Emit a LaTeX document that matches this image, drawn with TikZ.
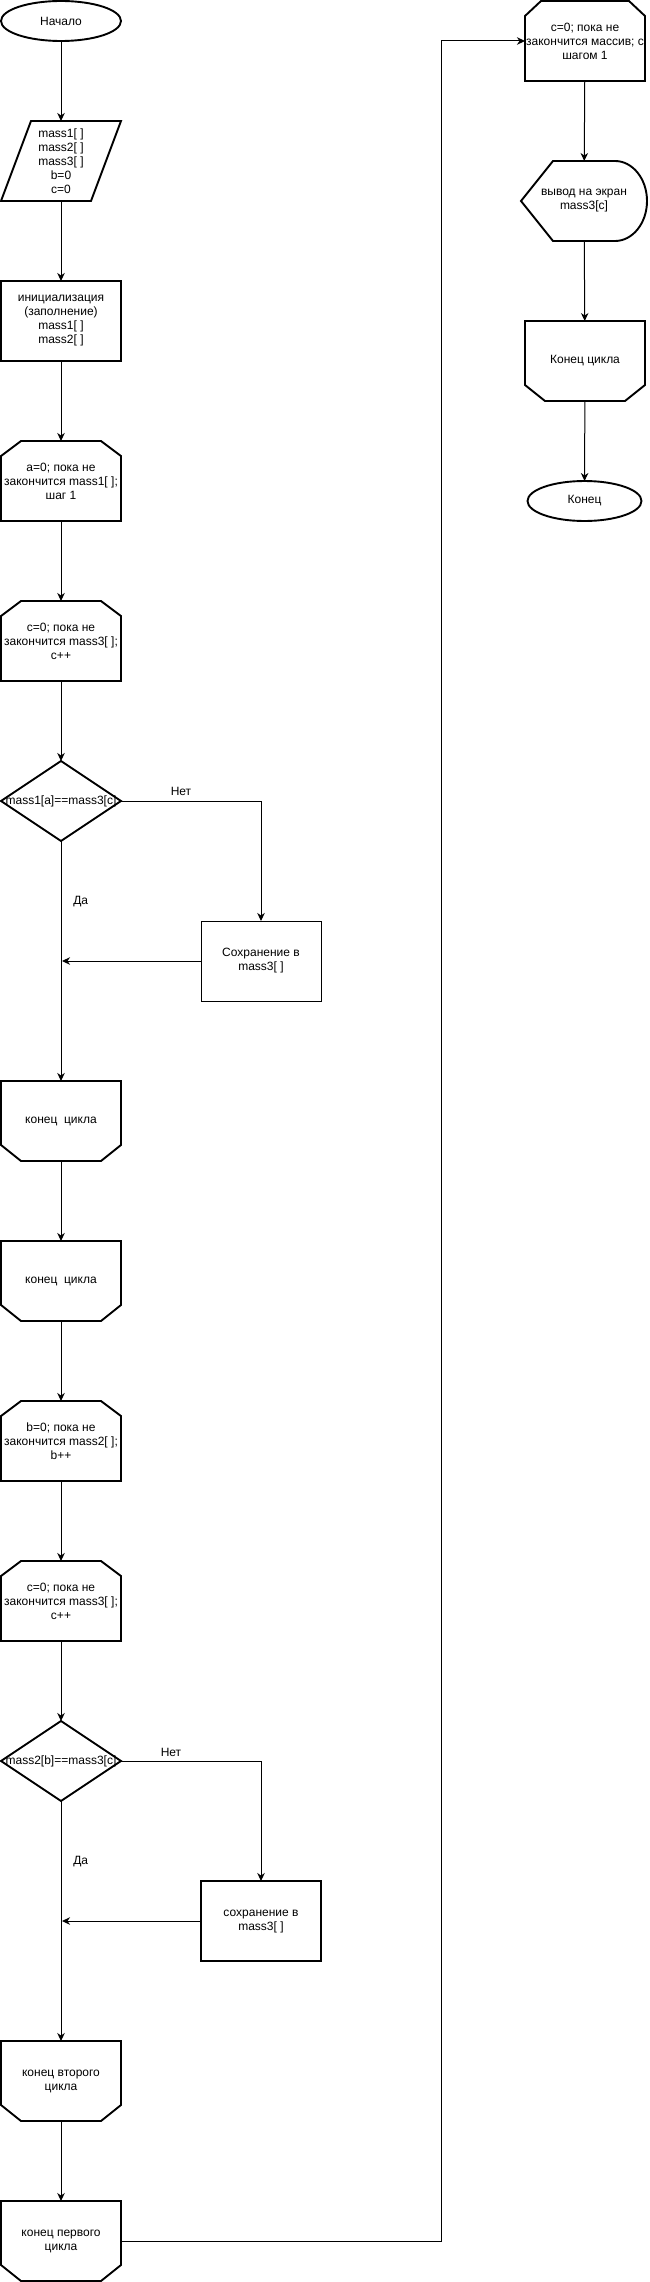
\documentclass[tikz,border=0pt]{standalone}
\usepackage{fontspec}
\setmainfont{Liberation Sans}
\usetikzlibrary{arrows.meta,shapes.geometric}
\newcommand\shpCutTop[3]{\draw[shp] ([xshift=#2]#1.north west) -- ([xshift=-#2]#1.north east) -- ([yshift=-#3]#1.north east) -- (#1.south east) -- (#1.south west) -- ([yshift=-#3]#1.north west) -- cycle;}
\newcommand\shpCutBot[3]{\draw[shp] (#1.north west) -- (#1.north east) -- ([yshift=#3]#1.south east) -- ([xshift=-#2]#1.south east) -- ([xshift=#2]#1.south west) -- ([yshift=#3]#1.south west) -- cycle;}
\newcommand\shpPara[2]{\draw[shp] ([xshift=#2]#1.north west) -- (#1.north east) -- ([xshift=-#2]#1.south east) -- (#1.south west) -- cycle;}
\newcommand\shpDia[1]{\draw[shp] (#1.north) -- (#1.east) -- (#1.south) -- (#1.west) -- cycle;}
\newcommand\shpDisp[2]{\draw[shp] (#1.west) -- ([xshift=#2]#1.north west) -- ([xshift=-#2]#1.north east) arc[start angle=90, end angle=-90, x radius=#2, y radius=40pt] -- ([xshift=#2]#1.south west) -- cycle;}
\begin{document}
\begin{tikzpicture}[x=1pt,y=-1pt,
  every node/.style={font=\fontsize{12}{14}\selectfont, align=center, inner sep=0pt, outer sep=0pt},
  shp/.style={line width=1.9pt, line join=miter},
  hold/.style={minimum width=120pt, minimum height=80pt},
  oval/.style={ellipse, draw, line width=1.9pt, minimum width=120pt, minimum height=40pt},
  plainbox/.style={draw, line width=1pt, minimum width=120pt, minimum height=80pt},
  thickbox/.style={draw, line width=1.9pt, minimum width=120pt, minimum height=80pt},
  conn/.style={line width=1pt, -{Stealth[length=8pt,width=7.5pt,inset=2.5pt]}}
]
\useasboundingbox (0,0) rectangle (649,2282);
% left column
\node[oval] (start) at (61,21) {Начало};
\node[hold] (para) at (61,161) {mass1[ ]\\mass2[ ]\\mass3[ ]\\b=0\\c=0};
\node[thickbox] (init) at (61,321) {инициализация\\(заполнение)\\mass1[ ]\\mass2[ ]};
\node[hold] (loopA) at (61,481) {a=0; пока не\\закончится mass1[ ];\\шаг 1};
\node[hold] (loopC) at (61,641) {c=0; пока не\\закончится mass3[ ];\\c++};
\node[hold] (dia1) at (61,801) {mass1[a]==mass3[c]};
\node[plainbox] (save1) at (261,961) {Сохранение в\\mass3[ ]};
\node[hold] (end1) at (61,1121) {конец\ \ цикла};
\node[hold] (end2) at (61,1281) {конец\ \ цикла};
\node[hold] (loopB) at (61,1441) {b=0; пока не\\закончится mass2[ ];\\b++};
\node[hold] (loopC2) at (61,1601) {c=0; пока не\\закончится mass3[ ];\\c++};
\node[hold] (dia2) at (61,1761) {mass2[b]==mass3[c]};
\node[thickbox] (save2) at (261,1921) {сохранение в\\mass3[ ]};
\node[hold] (endsec) at (61,2081) {конец второго\\цикла};
\node[hold] (endfirst) at (61,2241) {конец первого\\цикла};
% right column
\node[hold] (loopR) at (585,41) {c=0; пока не\\закончится массив; с\\шагом 1};
\node[hold, minimum width=126pt] (disp) at (584,201) {вывод на экран\\mass3[c]};
\node[hold] (endR) at (585,361) {Конец цикла};
\node[oval, minimum width=114pt] (stopR) at (584.5,501) {Конец};
% labels
\node (no1) at (181,791.5) {Нет};
\node (yes1) at (80.7,901.7) {Да};
\node (no2) at (171,1752) {Нет};
\node (yes2) at (80.7,1861.6) {Да};
% outlines
\shpPara{para}{30pt}
\shpCutTop{loopA}{20pt}{15pt}
\shpCutTop{loopC}{20pt}{15pt}
\shpDia{dia1}
\shpCutBot{end1}{20pt}{16pt}
\shpCutBot{end2}{20pt}{16pt}
\shpCutTop{loopB}{20pt}{15pt}
\shpCutTop{loopC2}{20pt}{15pt}
\shpDia{dia2}
\shpCutBot{endsec}{20pt}{16pt}
\shpCutBot{endfirst}{20pt}{16pt}
\shpCutTop{loopR}{16pt}{15pt}
\shpDisp{disp}{32pt}
\shpCutBot{endR}{20pt}{16pt}
% junctions
\coordinate (j1) at (62,961);
\coordinate (j2) at (62,1921);
\coordinate (bend) at (441,2241);
% connectors
\draw[conn] (start) -- (para);
\draw[conn] (para) -- (init);
\draw[conn] (init) -- (loopA);
\draw[conn] (loopA) -- (loopC);
\draw[conn] (loopC) -- (dia1);
\draw[conn] (dia1.east) -| (save1.north);
\draw[conn] (dia1.south) -- (end1.north);
\draw[conn] (save1.west) -- (j1);
\draw[conn] (end1) -- (end2);
\draw[conn] (end2) -- (loopB);
\draw[conn] (loopB) -- (loopC2);
\draw[conn] (loopC2) -- (dia2);
\draw[conn] (dia2.east) -| (save2.north);
\draw[conn] (dia2.south) -- (endsec.north);
\draw[conn] (save2.west) -- (j2);
\draw[conn] (endsec) -- (endfirst);
\draw[conn] (endfirst.east) -- (bend) |- (loopR.west);
\draw[conn] (loopR) -- (disp);
\draw[conn] (disp) -- (endR);
\draw[conn] (endR) -- (stopR);
\end{tikzpicture}
\end{document}
